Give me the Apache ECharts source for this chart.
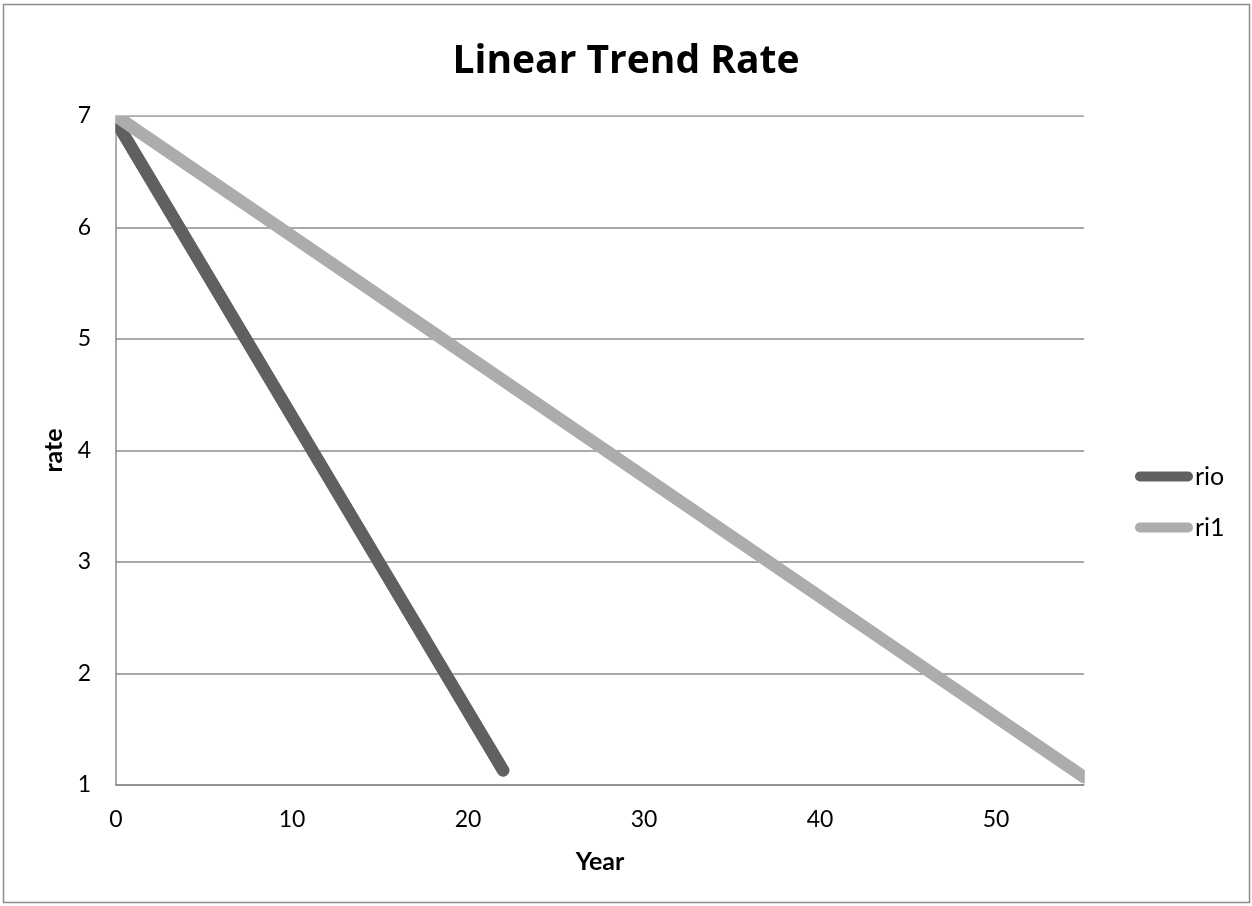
<!DOCTYPE html>
<html>
<head>
<meta charset="utf-8">
<script src="https://cdn.jsdelivr.net/npm/echarts@6/dist/echarts.min.js"></script>
<style>
html,body{margin:0;padding:0;background:#fff;}
#chart{width:1252px;height:906px;}
</style>
</head>
<body>
<div id="chart"></div>
<script>
// Data
const seriesNames = ['rio', 'ri1'];
const rioYears = [0, 22];
const rioRates = [6.95, 1.13];
const ri1Years = [0, 55];
const ri1Rates = [7.0, 1.07];
const xTicks = [0, 10, 20, 30, 40, 50];
const yTicks = [1, 2, 3, 4, 5, 6, 7];

const FONT = 'Lato, "Open Sans", sans-serif';
const chart = echarts.init(document.getElementById('chart'), null, {renderer: 'canvas'});

const capsule = 'path://M5,0 L53,0 A5,5 0 0 1 53,10 L5,10 A5,5 0 0 1 5,0 Z';

// white masks that trim the round line caps at the plot edges (like the reference's clipping)
const maskStyle = {fill: '#fff', stroke: 'none'};

chart.setOption({
  animation: false,
  backgroundColor: '#fff',
  graphic: [
    {type: 'rect', z: 100, silent: true, shape: {x: 96, y: 96, width: 19.2, height: 50}, style: maskStyle},
    {type: 'rect', z: 100, silent: true, shape: {x: 96, y: 96, width: 1010, height: 19.2}, style: maskStyle},
    {type: 'rect', z: 100, silent: true, shape: {x: 1084.8, y: 750, width: 20, height: 50}, style: maskStyle},
    {
      type: 'rect', z: 101,
      shape: {x: 3.5, y: 4.5, width: 1246, height: 898},
      style: {fill: 'none', stroke: '#8c8c8c', lineWidth: 1.5},
      silent: true
    }
  ],
  title: {
    text: 'Linear Trend Rate',
    left: 'center',
    top: 37,
    textStyle: {fontFamily: '"Open Sans", Lato, sans-serif', fontWeight: 'bold', fontSize: 39, color: '#000'}
  },
  legend: {
    orient: 'vertical',
    left: 1130,
    top: 459,
    itemWidth: 58,
    itemHeight: 10,
    itemGap: 26,
    data: seriesNames.map(n => ({name: n, icon: capsule})),
    textStyle: {fontFamily: FONT, fontSize: 25, color: '#000', padding: [0, 0, 0, -3]}
  },
  grid: {left: 116, right: 168, top: 116, bottom: 121, containLabel: false},
  xAxis: {
    type: 'value',
    min: xTicks[0],
    max: 55,
    interval: 10,
    name: 'Year',
    nameLocation: 'middle',
    nameGap: 64,
    nameTextStyle: {fontFamily: FONT, fontWeight: 'bold', fontSize: 25, color: '#000'},
    axisLine: {show: true, lineStyle: {color: '#8c8c8c', width: 1.5}},
    axisTick: {show: false},
    splitLine: {show: false},
    axisLabel: {
      fontFamily: FONT, fontSize: 23, color: '#000', margin: 23,
      showMaxLabel: false,
      formatter: v => (xTicks.indexOf(v) >= 0 ? String(v) : '')
    }
  },
  yAxis: {
    type: 'value',
    min: yTicks[0],
    max: yTicks[yTicks.length - 1],
    interval: 1,
    name: 'rate',
    nameLocation: 'middle',
    nameGap: 50,
    nameRotate: 90,
    nameTextStyle: {fontFamily: FONT, fontWeight: 'bold', fontSize: 25, color: '#000'},
    axisLine: {show: true, lineStyle: {color: '#8c8c8c', width: 1.5}},
    axisTick: {show: false},
    splitLine: {show: true, lineStyle: {color: '#8c8c8c', width: 1.5}},
    axisLabel: {fontFamily: FONT, fontSize: 23, color: '#000', margin: 25}
  },
  series: [
    {
      name: seriesNames[0],
      type: 'line',
      data: rioYears.map((x, i) => [x, rioRates[i]]),
      showSymbol: false,
      symbol: 'none',
      clip: true,
      color: '#606060',
      lineStyle: {color: '#606060', width: 12.5, cap: 'round'},
      z: 3
    },
    {
      name: seriesNames[1],
      type: 'line',
      data: ri1Years.map((x, i) => [x, ri1Rates[i]]),
      showSymbol: false,
      symbol: 'none',
      clip: true,
      color: '#acacac',
      lineStyle: {color: '#acacac', width: 12.5, cap: 'round'},
      z: 4
    }
  ]
});
</script>
</body>
</html>
